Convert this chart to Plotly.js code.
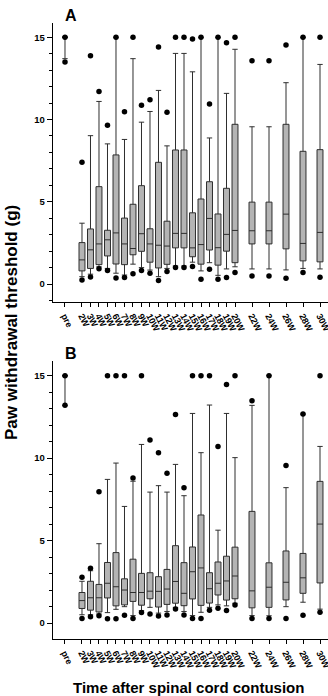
<!DOCTYPE html>
<html><head><meta charset="utf-8">
<script src="https://cdn.plot.ly/plotly-3.0.1.min.js"></script>
<style>html,body{margin:0;padding:0;background:#fff}#chart{width:328px;height:696px}</style>
</head><body><div id="chart"></div>
<script>
const categories = ['pre','2W','3W','4W','5W','6W','7W','8W','9W','10W','11W','12W','13W','14W','15W','16W','17W','18W','19W','20W','22W','24W','26W','28W','30W'];
const weekNumbers = [0,2,3,4,5,6,7,8,9,10,11,12,13,14,15,16,17,18,19,20,22,24,26,28,30];

// Panel A
const A_lowerfence = [13.7,0.45,0.6,1.05,0.95,0.66,0.55,1.21,1.0,0.85,0.45,0.95,1.1,1.1,1.33,0.8,1.3,0.53,0.92,1.05,0.92,0.92,0.86,0.95,0.92];
const A_q1 = [15,0.8,0.95,1.18,1.71,1.22,1.18,1.78,1.99,1.33,0.98,1.2,2.2,2.2,1.66,1.21,2.07,1.15,2.0,1.3,2.44,2.44,2.14,1.41,1.35];
const A_median = [15,1.47,2.08,2.44,2.69,3.11,2.44,2.16,3.06,2.44,2.36,2.31,3.08,3.08,2.2,2.4,3.99,2.21,3.02,3.26,3.24,3.24,4.25,2.47,3.14];
const A_q3 = [15,2.52,3.35,5.92,3.27,7.85,4.01,4.85,5.98,3.36,7.4,3.82,8.15,8.15,4.33,5.17,6.22,4.26,5.82,9.71,4.98,4.98,9.71,8.07,8.17];
const A_upperfence = [15,3.7,9.02,11.1,8.52,15,8.79,13.7,9.84,10.49,11.77,8.4,14.02,14.02,12.9,15,8.88,15,11.59,14.27,9.56,9.56,12.24,15,13.35];
const A_outHigh = [15,7.4,13.88,11.7,9.66,15,10.47,15,10.87,11.2,14.41,10.45,15,15,14.9,15,10.94,15,14.67,15,13.58,13.58,14.53,15,15];
const A_outLow = [13.5,0.25,0.43,0.93,0.82,0.37,0.4,0.62,0.82,0.65,0.22,0.76,1.0,1.0,1.07,0.29,0.9,0.29,0.4,0.71,0.49,0.49,0.36,0.71,0.41];

// Panel B
const B_lowerfence = [13.2,0.5,0.5,0.55,0.63,0.83,0.99,0.45,0.75,0.95,0.6,0.7,0.95,0.7,0.45,0.65,0.95,1.1,1.04,1.2,0.45,0.44,0.99,1.26,0.84];
const B_q1 = [15,0.88,0.78,0.67,1.52,1.04,1.1,1.31,1.08,1.47,0.97,1.13,1.2,1.05,1.46,1.07,1.21,1.7,1.39,1.47,0.92,0.95,1.4,1.8,2.43];
const B_median = [15,1.36,1.53,1.53,2.41,2.2,2.0,1.85,1.85,1.93,1.92,2.06,2.52,1.8,3.11,3.34,2.08,2.41,2.55,2.85,1.95,2.17,2.47,2.74,6.0];
const B_q3 = [15,1.85,2.53,2.34,3.67,4.27,2.68,3.87,3.01,3.05,2.81,3.25,4.69,3.66,4.61,6.55,3.05,3.7,4.05,4.6,6.77,3.65,4.37,4.22,8.59];
const B_upperfence = [15,2.53,3.17,4.81,8.71,9.7,7.07,8.6,10.83,7.94,8.33,7.94,9.62,7.72,12.71,10.33,13.22,5.63,12.71,10.03,13.2,15,8.21,12.67,10.71];
const B_outHigh = [15,2.77,3.32,7.96,15,15,15,8.79,15,11.1,10.33,9.08,12.65,8.21,15,15,15,10.71,14.47,15,13.48,15,9.56,12.67,15];
const B_outLow = [13.2,0.27,0.38,0.44,0.26,0.26,0.47,0.28,0.63,0.55,0.42,0.48,0.85,0.49,0.27,0.28,0.77,0.89,0.76,1.09,0.27,0.27,0.27,0.47,0.65];

const FONT = 'Arial, "Liberation Sans", sans-serif';

function boxTrace(q1, med, q3, lo, hi, xa, ya) {
  return {type:'box', x: weekNumbers, q1: q1, median: med, q3: q3, lowerfence: lo, upperfence: hi,
    xaxis: xa, yaxis: ya, width: 0.7, whiskerwidth: 0.9, fillcolor: '#b4b4b4',
    line: {color: '#2e2e2e', width: 1}, boxpoints: false, hoverinfo: 'skip', showlegend: false};
}
function dotTrace(hi, lo, xa, ya) {
  return {type:'scatter', mode:'markers', x: weekNumbers.concat(weekNumbers), y: hi.concat(lo),
    xaxis: xa, yaxis: ya, marker: {size: 5.5, color: '#000'}, cliponaxis: false,
    hoverinfo: 'skip', showlegend: false};
}

const data = [
  boxTrace(A_q1, A_median, A_q3, A_lowerfence, A_upperfence, 'x', 'y'),
  dotTrace(A_outHigh, A_outLow, 'x', 'y'),
  boxTrace(B_q1, B_median, B_q3, B_lowerfence, B_upperfence, 'x2', 'y2'),
  dotTrace(B_outHigh, B_outLow, 'x2', 'y2')
];

function xAxis(anchor) {
  return {domain:[0,1], anchor: anchor, range:[-1.41, 30.94], tickmode:'array', tickvals: weekNumbers,
    ticktext: categories, tickangle: 63, ticks:'outside', ticklen: 4, tickwidth: 1, tickcolor:'#000',
    ticklabeloverflow: 'allow',
    showline: true, linecolor:'#000', linewidth: 1.3, showgrid: false, zeroline: false, automargin: false,
    tickfont: {family: FONT, size: 9, color: '#000', weight: 'bold'}};
}
function yAxis(anchor, domain, range) {
  return {domain: domain, anchor: anchor, range: range, tickmode:'linear', tick0: 0, dtick: 5,
    ticks:'outside', ticklen: 5, tickwidth: 1, tickcolor:'#000',
    minor: {tick0: 0, dtick: 1, ticks:'outside', ticklen: 3, tickwidth: 1, tickcolor:'#000', showgrid: false},
    showline: true, linecolor:'#000', linewidth: 1.3, showgrid: false, zeroline: false, automargin: false,
    tickfont: {family: FONT, size: 9.5, color: '#000', weight: 'bold'}};
}

const layout = {
  width: 328, height: 696, margin: {l: 53, r: 0, t: 0, b: 0},
  paper_bgcolor: '#fff', plot_bgcolor: '#fff', showlegend: false,
  font: {family: FONT, color: '#000'},
  xaxis: xAxis('y'),
  yaxis: yAxis('x', [0.5661, 0.9670], [-1.09, 15.87]),
  xaxis2: xAxis('y2'),
  yaxis2: yAxis('x2', [0.0819, 0.4813], [-0.97, 15.89]),
  annotations: [
    {text: 'A', xref: 'paper', yref: 'paper', x: 0.035, y: 1 - 15/696, xanchor: 'left', yanchor: 'middle',
     showarrow: false, font: {family: FONT, size: 16, weight: 'bold', color: '#000'}},
    {text: 'B', xref: 'paper', yref: 'paper', x: 0.037, y: 1 - 353/696, xanchor: 'left', yanchor: 'middle',
     showarrow: false, font: {family: FONT, size: 16, weight: 'bold', color: '#000'}},
    {text: 'Paw withdrawal threshold (g)', xref: 'paper', yref: 'paper', x: (11 - 53)/275, y: 1 - 323/696,
     xanchor: 'center', yanchor: 'middle', textangle: -90, showarrow: false,
     font: {family: FONT, size: 17, weight: 'bold', color: '#000'}},
    {text: 'Time after spinal cord contusion', xref: 'paper', yref: 'paper', x: (188 - 53)/275, y: 1 - 687/696,
     xanchor: 'center', yanchor: 'middle', showarrow: false,
     font: {family: FONT, size: 15, weight: 'bold', color: '#000'}}
  ]
};

Plotly.newPlot('chart', data, layout, {staticPlot: true, displayModeBar: false});
</script>
</body></html>
